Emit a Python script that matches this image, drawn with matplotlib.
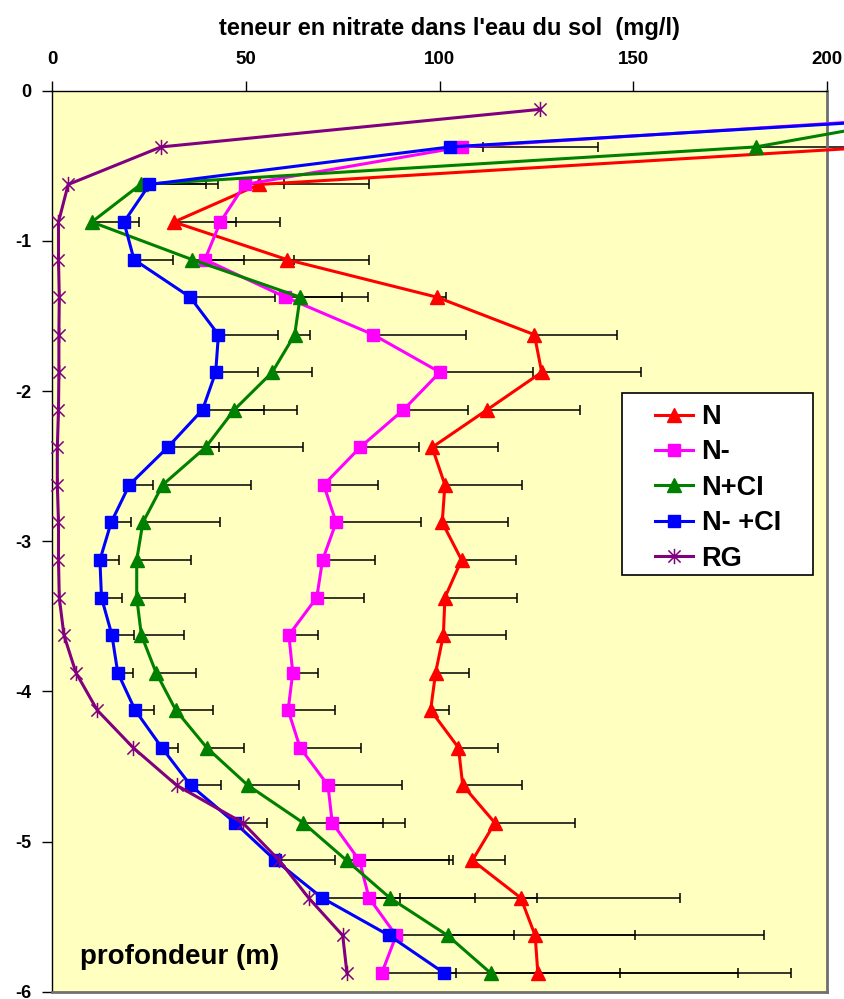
import matplotlib
matplotlib.use("Agg")
import matplotlib.pyplot as plt
from matplotlib.path import Path
from matplotlib.patches import Rectangle

# ---------------- data ----------------
depths = [0.125, 0.375, 0.625, 0.875, 1.125, 1.375, 1.625, 1.875,
          2.125, 2.375, 2.625, 2.875, 3.125, 3.375, 3.625, 3.875,
          4.125, 4.375, 4.625, 4.875, 5.125, 5.375, 5.625, 5.875]

n_vals = [280, 213, 53.4, 31.4, 60.6, 99.3, 124.5, 126.4,
          112.3, 98.1, 101.4, 100.7, 105.7, 101.4, 101.0, 99.0,
          97.7, 104.9, 106.0, 114.3, 108.5, 121.0, 124.7, 125.4]
n_err = [0, 20, 28.5, 27.4, 21.3, 2.4, 21.4, 25.7,
         24.0, 17.0, 19.9, 16.9, 14.1, 18.7, 16.3, 8.6,
         4.7, 10.2, 15.3, 20.8, 8.5, 41.1, 59.1, 65.3]

nm_vals = [258, 105.8, 49.7, 43.4, 39.4, 60.2, 82.9, 100.1,
           90.7, 79.5, 70.1, 73.3, 69.8, 68.3, 61.1, 62.1,
           60.9, 64.0, 71.2, 72.3, 79.3, 81.8, 88.8, 85.1]
nm_err = [0, 35.1, 10.1, 4.0, 22.9, 14.5, 23.9, 24.1,
          16.7, 15.1, 13.9, 21.8, 13.5, 12.3, 7.6, 6.6,
          12.2, 15.6, 19.0, 18.9, 24.3, 27.4, 30.5, 61.4]

nci_vals = [236, 181.7, 22.8, 10.2, 36.1, 64.0, 62.6, 56.8,
            47.0, 39.6, 28.5, 23.4, 21.8, 21.8, 23.0, 26.8,
            31.9, 39.9, 50.5, 64.8, 76.0, 87.2, 102.1, 113.2]
nci_err = [0, 30, 16.8, 8.0, 13.4, 17.6, 4.0, 10.4,
           16.2, 25.2, 22.8, 20.0, 14.1, 12.5, 11.0, 10.2,
           9.6, 9.6, 13.2, 20.5, 26.4, 37.9, 48.5, 63.9]

nmci_vals = [264, 102.7, 25.1, 18.5, 21.1, 35.6, 42.9, 42.2,
             38.8, 29.8, 19.9, 15.2, 12.3, 12.7, 15.4, 16.9,
             21.4, 28.3, 35.7, 47.2, 57.6, 69.7, 87.0, 101.2]
nmci_err = [0, 8.6, 17.8, 4.0, 10.0, 22.0, 15.4, 10.8,
            16.0, 13.2, 6.0, 5.0, 4.9, 5.3, 5.8, 3.9,
            4.8, 4.2, 7.9, 8.2, 15.5, 20.1, 3.0, 3.0]

rg_vals = [125.9, 28.1, 4.1, 1.6, 1.6, 1.8, 1.7, 1.7,
           1.6, 1.3, 1.3, 1.6, 1.6, 1.8, 3.0, 6.1,
           11.6, 20.9, 32.1, 49.2, 58.6, 66.2, 75.0, 76.1]

labels = ["N", "N-", "N+CI", "N- +CI", "RG"]
x_ticks = [0, 50, 100, 150, 200]
y_ticks = [0, -1, -2, -3, -4, -5, -6]
title = "teneur en nitrate dans l'eau du sol  (mg/l)"
ylabel_text = "profondeur (m)"

# ---------------- style ----------------
FONT = "Liberation Sans"
plt.rcParams['font.family'] = [FONT, 'DejaVu Sans']

W, H = 845, 999
fig = plt.figure(figsize=(W / 100, H / 100), dpi=100)
x0, x1 = 52.3, 826.7
y0, y1 = 90.6, 991.8
ax = fig.add_axes([x0 / W, 1 - y1 / H, (x1 - x0) / W, (y1 - y0) / H])
ax.set_facecolor("#FFFFC0")

star = Path([(-1, -1), (1, 1), (-1, 1), (1, -1), (0, -1.25), (0, 1.25)],
            [Path.MOVETO, Path.LINETO, Path.MOVETO, Path.LINETO, Path.MOVETO, Path.LINETO])

yd = [-d for d in depths]

series = [
    (n_vals, n_err, "#FF0000", "^", 10),
    (nm_vals, nm_err, "#FF00FF", "s", 8),
    (nci_vals, nci_err, "#008000", "^", 10),
    (nmci_vals, nmci_err, "#0000FF", "s", 8),
]

for vals, err, col, mk, ms in series:
    eb = ax.errorbar(vals, yd, xerr=[[0] * len(err), err], fmt="none",
                     ecolor="black", elinewidth=1.1, capsize=3.5, capthick=1.1,
                     zorder=1.5)
    for c in eb.get_children():
        c.set_clip_on(False)

handles = []
for (vals, err, col, mk, ms), lab in zip(series, labels[:4]):
    ln, = ax.plot(vals, yd, color=col, lw=2.2, marker=mk, ms=ms,
                  mec=col, mfc=col, clip_on=False, zorder=3, label=lab)
    handles.append(ln)
ln, = ax.plot(rg_vals, yd, color="#800080", lw=2.2, marker=star, ms=11,
              mew=1.1, mec="#800080", mfc="none", clip_on=False, zorder=3, label=labels[4])
handles.append(ln)

ax.set_xlim(0, 200)
ax.set_ylim(-6, 0)
ax.xaxis.tick_top()
ax.set_xticks(x_ticks)
ax.set_yticks(y_ticks)
ax.set_xticklabels([str(v) for v in x_ticks], fontsize=13.5, fontweight="bold")
ax.set_yticklabels([str(v) for v in y_ticks], fontsize=13, fontweight="bold")
ax.tick_params(axis="x", direction="out", length=7.5, width=1, pad=9, top=True, bottom=False)
ax.tick_params(axis="y", direction="out", length=7.3, width=1, pad=8)

for s in ["left", "top"]:
    ax.spines[s].set_color("black")
    ax.spines[s].set_linewidth(1.0)
for s in ["right", "bottom"]:
    ax.spines[s].set_color("#707070")
    ax.spines[s].set_linewidth(2.0)

fig.text(449 / W, 1 - 28 / H, title, ha="center", va="center",
         fontsize=17, fontweight="bold")
ax.text(80 / W, 1 - 957 / H, ylabel_text, transform=fig.transFigure,
        ha="left", va="center", fontsize=20, fontweight="bold", zorder=6)

# legend frame
rect = Rectangle((622 / W, 1 - 575 / H), (813 - 622) / W, (575 - 393) / H,
                 transform=fig.transFigure, facecolor="white", edgecolor="black",
                 lw=1.2, zorder=4.5, clip_on=False)
ax.add_patch(rect)
leg = ax.legend(handles=handles, loc="upper left",
                bbox_to_anchor=(655 / W, 1 - 404 / H), bbox_transform=fig.transFigure,
                frameon=False, borderpad=0, borderaxespad=0,
                handlelength=1.4, handletextpad=0.32, labelspacing=0.35,
                numpoints=1, prop={"family": FONT, "weight": "bold", "size": 19.5})
leg.set_zorder(5)

fig.savefig("out.png", dpi=100, facecolor="white")
